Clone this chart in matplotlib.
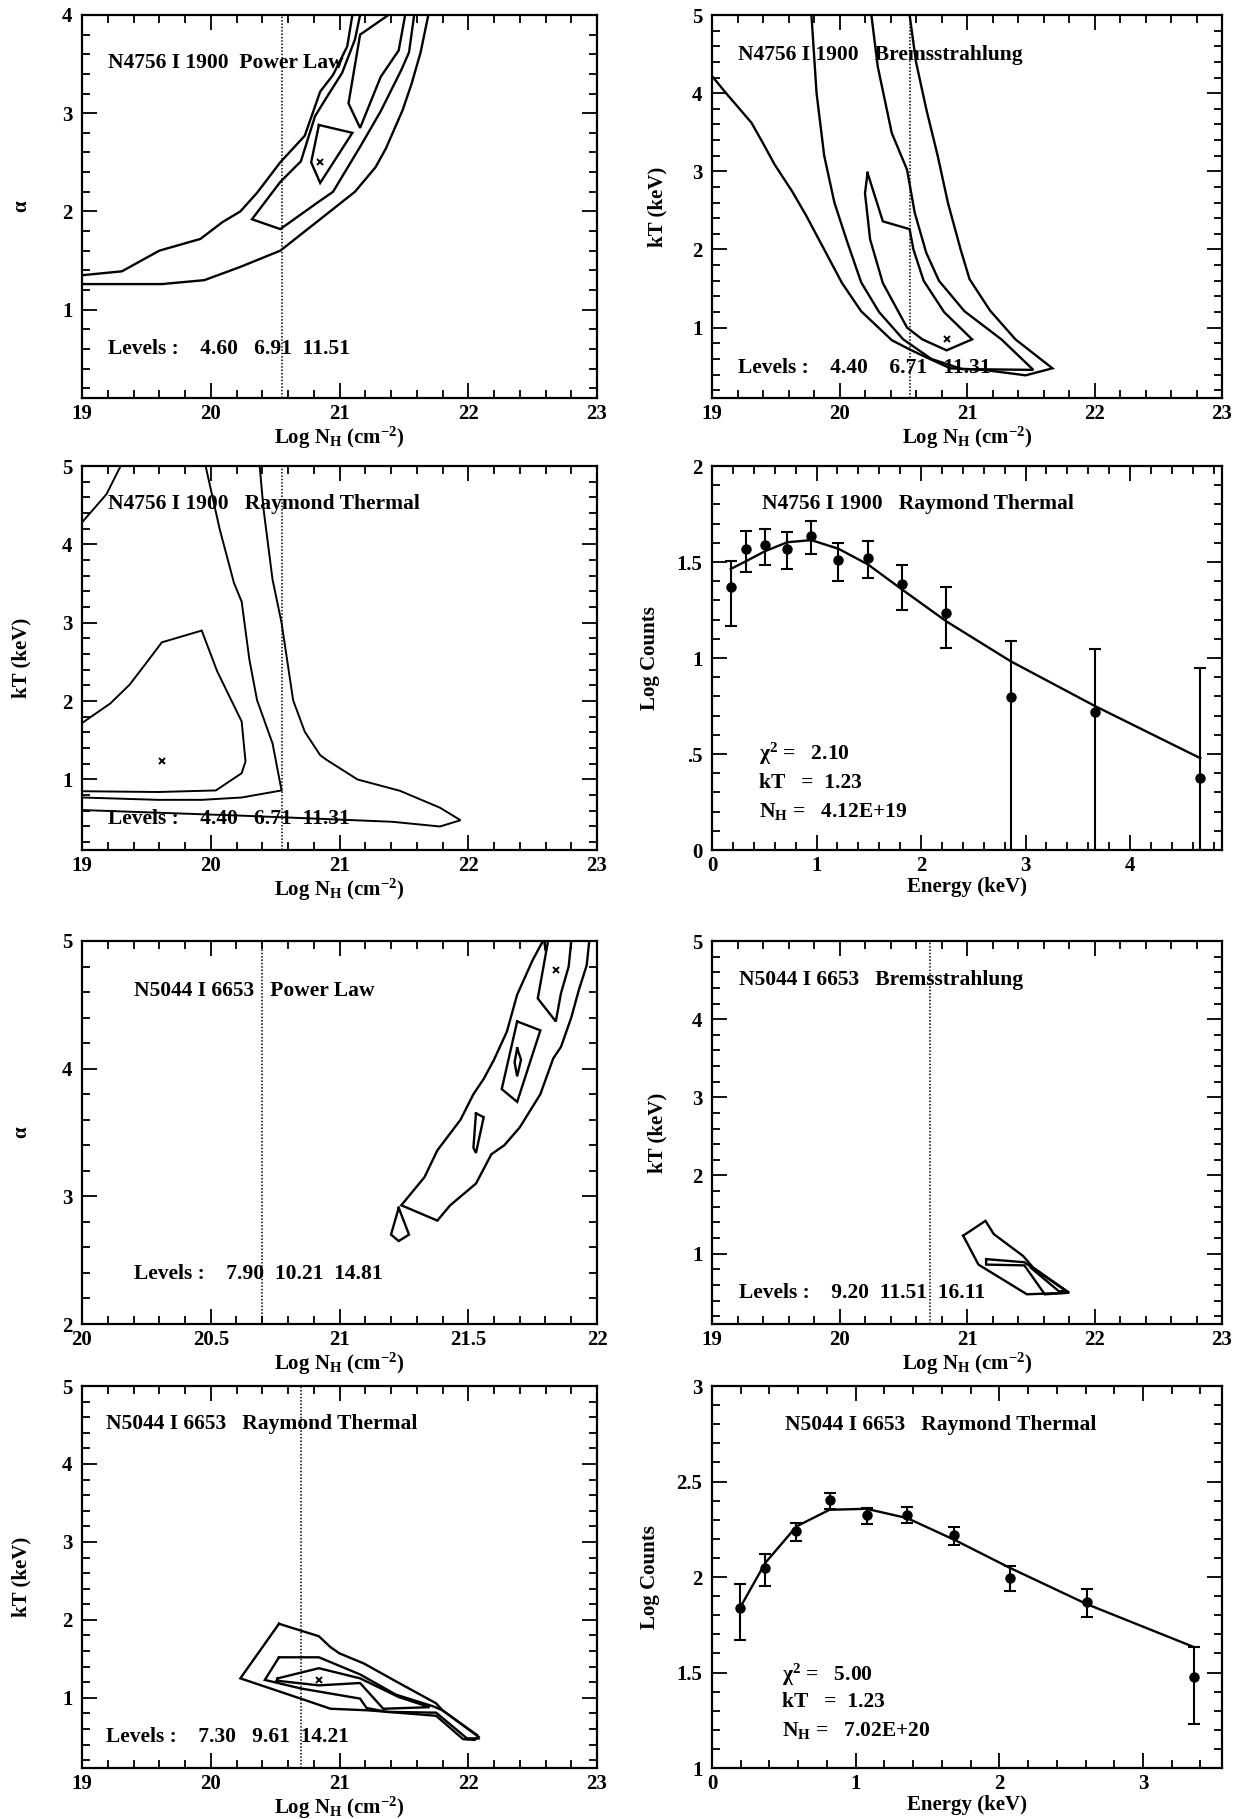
import matplotlib
matplotlib.use("Agg")
import matplotlib.pyplot as plt
from matplotlib.ticker import MultipleLocator, FuncFormatter

plt.rcParams['font.family'] = ['Liberation Serif', 'DejaVu Serif']
plt.rcParams['font.weight'] = 'bold'
plt.rcParams['mathtext.fontset'] = 'custom'
plt.rcParams['mathtext.rm'] = 'Liberation Serif:bold'
plt.rcParams['mathtext.it'] = 'Liberation Serif:italic:bold'
plt.rcParams['mathtext.bf'] = 'Liberation Serif:bold'

# ---------------- Panel 1: N4756 power law (contours) ----------------
p1_c1151_left = [(19.0, 1.35), (19.31, 1.39), (19.60, 1.60), (19.92, 1.72), (20.09, 1.89), (20.23, 2.00),
                 (20.36, 2.19), (20.54, 2.50), (20.73, 2.77), (20.85, 3.22), (20.95, 3.39), (21.06, 3.68),
                 (21.10, 4.0)]
p1_c1151_right = [(19.0, 1.26), (19.62, 1.26), (19.95, 1.30), (20.22, 1.43), (20.54, 1.60), (20.84, 1.91),
                  (21.12, 2.20), (21.28, 2.45), (21.36, 2.64), (21.49, 3.03), (21.56, 3.30), (21.63, 3.62),
                  (21.69, 4.0)]
p1_c691 = [(21.16, 4.0), (21.12, 3.75), (21.02, 3.41), (20.89, 3.14), (20.81, 2.97), (20.70, 2.51),
           (20.54, 2.30), (20.32, 1.92), (20.54, 1.82), (20.84, 2.10), (20.95, 2.20), (21.17, 2.68),
           (21.32, 3.02), (21.48, 3.44), (21.54, 3.62), (21.58, 4.0)]
p1_c460_top = [(21.38, 4.0), (21.16, 3.80), (21.07, 3.10), (21.16, 2.85), (21.32, 3.37), (21.46, 3.64),
               (21.51, 4.0)]
p1_c460_core = [(20.84, 2.88), (21.10, 2.80), (20.85, 2.29), (20.78, 2.50), (20.84, 2.88)]
p1_best = (20.85, 2.50)
p1_galactic = 20.55

# ---------------- Panel 2: N4756 bremsstrahlung (contours) ----------------
p2_c1131 = [(19.0, 4.22), (19.11, 4.0), (19.20, 3.83), (19.31, 3.62), (19.40, 3.36), (19.49, 3.09),
            (19.63, 2.74), (19.74, 2.43), (19.88, 2.00), (20.02, 1.57), (20.17, 1.21), (20.28, 1.04),
            (20.41, 0.84), (20.54, 0.73), (20.68, 0.62), (20.87, 0.48), (21.13, 0.46), (21.46, 0.39),
            (21.67, 0.48), (21.38, 0.85), (21.18, 1.22), (21.02, 1.62), (20.95, 2.0), (20.85, 2.6),
            (20.77, 3.2), (20.68, 3.8), (20.60, 4.4), (20.55, 5.0)]
p2_c671 = [(19.78, 5.0), (19.80, 4.5), (19.82, 4.0), (19.88, 3.2), (19.96, 2.6), (20.06, 2.1),
           (20.17, 1.58), (20.31, 1.2), (20.50, 0.85), (20.72, 0.60), (20.96, 0.47), (21.52, 0.46),
           (21.27, 0.85), (20.98, 1.21), (20.78, 1.60), (20.68, 1.96), (20.59, 2.47), (20.53, 3.02),
           (20.41, 3.49), (20.30, 4.34), (20.25, 5.0)]
p2_c440 = [(20.22, 2.98), (20.20, 2.72), (20.24, 2.13), (20.34, 1.57), (20.53, 1.0), (20.65, 0.85),
           (20.84, 0.71), (21.04, 0.85), (20.82, 1.2), (20.66, 1.6), (20.58, 2.0), (20.55, 2.26),
           (20.34, 2.36), (20.22, 2.98)]
p2_best = (20.84, 0.85)
p2_galactic = 20.55

# ---------------- Panel 3: N4756 Raymond thermal (contours) ----------------
p3_c1131_corner = [(19.0, 4.28), (19.19, 4.64), (19.30, 5.0)]
p3_c1131 = [(20.38, 5.0), (20.41, 4.45), (20.48, 3.55), (20.55, 3.0), (20.64, 2.01), (20.73, 1.61),
            (20.85, 1.31), (20.90, 1.25), (21.14, 1.0), (21.47, 0.855), (21.78, 0.64), (21.94, 0.48),
            (21.78, 0.40), (21.41, 0.46), (20.82, 0.50), (20.21, 0.54), (19.0, 0.61)]
p3_c671 = [(19.96, 5.0), (20.07, 4.19), (20.18, 3.51), (20.24, 3.27), (20.30, 2.53), (20.36, 2.01),
           (20.48, 1.46), (20.55, 0.86), (20.24, 0.77), (19.93, 0.74), (19.59, 0.74), (19.0, 0.77)]
p3_c440 = [(19.0, 1.72), (19.22, 1.97), (19.37, 2.21), (19.51, 2.51), (19.62, 2.75), (19.93, 2.90),
           (20.05, 2.38), (20.24, 1.74), (20.27, 1.23), (20.24, 1.08), (20.04, 0.86), (19.59, 0.84),
           (19.0, 0.85)]
p3_best = (19.62, 1.23)
p3_galactic = 20.55

# ---------------- Panel 4: N4756 spectrum ----------------
p4_energy = [0.18, 0.325, 0.51, 0.722, 0.949, 1.21, 1.493, 1.818, 2.242, 2.858, 3.66, 4.673]
p4_logc = [1.369, 1.569, 1.591, 1.570, 1.638, 1.513, 1.522, 1.383, 1.235, 0.797, 0.717, 0.377]
p4_err_hi = [1.503, 1.664, 1.673, 1.656, 1.713, 1.597, 1.609, 1.482, 1.369, 1.090, 1.049, 0.948]
p4_err_lo = [1.169, 1.450, 1.482, 1.464, 1.544, 1.403, 1.417, 1.252, 1.052, 0.0, 0.0, 0.0]
p4_model = [1.464, 1.504, 1.557, 1.603, 1.614, 1.569, 1.487, 1.357, 1.191, 0.983, 0.751, 0.478]

# ---------------- Panel 5: N5044 power law (contours) ----------------
p5_c1481 = [(21.79, 5.0), (21.75, 4.85), (21.69, 4.58), (21.65, 4.29), (21.60, 4.07), (21.56, 3.92),
            (21.52, 3.80), (21.47, 3.60), (21.38, 3.36), (21.33, 3.15), (21.24, 2.93), (21.38, 2.81),
            (21.43, 2.93), (21.53, 3.10), (21.59, 3.33), (21.64, 3.40), (21.70, 3.54), (21.78, 3.80),
            (21.83, 4.08), (21.86, 4.17), (21.90, 4.40), (21.93, 4.62), (21.96, 4.81), (21.97, 5.0)]
p5_c1021_top = [(21.81, 5.0), (21.77, 4.55), (21.84, 4.37), (21.86, 4.59), (21.89, 4.80), (21.90, 5.0)]
p5_c1021_box = [(21.69, 4.37), (21.78, 4.30), (21.69, 3.74), (21.63, 3.84), (21.69, 4.37)]
p5_c1021_mid = [(21.53, 3.65), (21.56, 3.62), (21.53, 3.34), (21.52, 3.38), (21.53, 3.65)]
p5_c1021_low = [(21.23, 2.91), (21.27, 2.70), (21.23, 2.65), (21.20, 2.70), (21.23, 2.91)]
p5_c790_core = [(21.69, 4.16), (21.705, 4.07), (21.69, 3.94), (21.68, 4.05), (21.69, 4.16)]
p5_c790_top = [(21.795, 5.0), (21.80, 4.93)]
p5_best = (21.84, 4.77)
p5_galactic = 20.70

# ---------------- Panel 6: N5044 bremsstrahlung (contours) ----------------
p6_c1611 = [(20.97, 1.23), (21.145, 1.42), (21.21, 1.25), (21.44, 0.97), (21.52, 0.82), (21.80, 0.50),
            (21.47, 0.48), (21.09, 0.86), (20.97, 1.23)]
p6_c1151 = [(21.15, 0.93), (21.45, 0.89), (21.80, 0.50), (21.61, 0.48), (21.45, 0.85), (21.15, 0.86),
            (21.15, 0.93)]
p6_c920 = [(21.50, 0.84), (21.78, 0.52), (21.72, 0.52), (21.50, 0.82), (21.50, 0.84)]
p6_galactic = 20.71

# ---------------- Panel 7: N5044 Raymond thermal (contours) ----------------
p7_c1421 = [(20.53, 1.95), (20.84, 1.79), (20.93, 1.65), (21.0, 1.57), (21.19, 1.44), (21.44, 1.21),
            (21.75, 0.93), (21.80, 0.84), (22.08, 0.50), (22.05, 0.46), (21.96, 0.47), (21.75, 0.77),
            (21.22, 0.84), (20.93, 0.86), (20.77, 0.95), (20.23, 1.25), (20.53, 1.95)]
p7_c961 = [(20.53, 1.52), (20.84, 1.52), (21.16, 1.30), (21.44, 1.04), (21.73, 0.89), (21.80, 0.84),
           (22.07, 0.52), (22.08, 0.48), (21.99, 0.48), (21.75, 0.81), (21.37, 0.82), (21.21, 0.87),
           (21.16, 0.99), (20.93, 1.055), (20.70, 1.12), (20.42, 1.23), (20.53, 1.52)]
p7_c730 = [(20.52, 1.25), (20.84, 1.38), (21.16, 1.25), (21.46, 1.01), (21.70, 0.88), (21.34, 0.86),
           (21.16, 1.19), (20.84, 1.16), (20.51, 1.22), (20.52, 1.25)]
p7_best = (20.84, 1.235)
p7_galactic = 20.70

# ---------------- Panel 8: N5044 spectrum ----------------
p8_energy = [0.195, 0.371, 0.588, 0.818, 1.076, 1.36, 1.686, 2.073, 2.612, 3.352]
p8_logc = [1.839, 2.048, 2.242, 2.404, 2.326, 2.326, 2.222, 1.996, 1.871, 1.478]
p8_err_hi = [1.964, 2.123, 2.282, 2.439, 2.361, 2.366, 2.262, 2.056, 1.938, 1.634]
p8_err_lo = [1.669, 1.952, 2.187, 2.355, 2.279, 2.282, 2.169, 1.926, 1.791, 1.231]
p8_model = [1.839, 2.074, 2.265, 2.352, 2.357, 2.308, 2.195, 2.048, 1.857, 1.634]

# ---------------- Text ----------------
nh_label = r"Log N$_{\mathregular{H}}$ (cm$^{\mathregular{-2}}$)"
kt_label = "kT (keV)"

W, H = 1238, 1819
fig = plt.figure(figsize=(W / 100, H / 100), dpi=100)

col_px = [(82, 597), (712, 1222)]
row_px = [(15, 398), (466, 850), (941, 1324), (1386, 1768)]

TICK_FS = 15
LAB_FS = 15
TXT_FS = 15.5


def make_ax(r, c):
    x0, x1 = col_px[c]
    y0, y1 = row_px[r]
    return fig.add_axes([x0 / W, 1 - y1 / H, (x1 - x0) / W, (y1 - y0) / H])


def fmt(v, pos):
    s = f"{v:g}"
    if s.startswith("0."):
        s = s[1:]
    return s


def setup(ax, xlim, ylim, xmaj, xmin, ymaj, ymin, xlabel, ylabel, ylab_x):
    ax.set_xlim(*xlim)
    ax.set_ylim(*ylim)
    ax.xaxis.set_major_locator(MultipleLocator(xmaj))
    ax.xaxis.set_minor_locator(MultipleLocator(xmin))
    ax.yaxis.set_major_locator(MultipleLocator(ymaj))
    ax.yaxis.set_minor_locator(MultipleLocator(ymin))
    ax.xaxis.set_major_formatter(FuncFormatter(fmt))
    ax.yaxis.set_major_formatter(FuncFormatter(fmt))
    ax.tick_params(which='both', direction='in', top=True, right=True, width=1.3, labelsize=TICK_FS)
    ax.tick_params(which='major', length=11)
    ax.tick_params(which='minor', length=6)
    ax.tick_params(axis='x', pad=4)
    ax.tick_params(axis='y', pad=7)
    for s in ax.spines.values():
        s.set_linewidth(1.6)
    ax.set_xlabel(xlabel, fontsize=LAB_FS, fontweight='bold', labelpad=1)
    ax.set_ylabel(ylabel, fontsize=LAB_FS, fontweight='bold', va='center')
    ax.yaxis.set_label_coords(ylab_x, 0.5)


def poly(ax, pts, lw=1.7):
    xs, ys = zip(*pts)
    ax.plot(xs, ys, color='black', lw=lw, solid_joinstyle='miter')


def vline(ax, x):
    ax.axvline(x, color='black', lw=1.1, ls=(0, (1, 1.2)))


def best(ax, pt):
    ax.plot([pt[0]], [pt[1]], marker='x', color='black', ms=4, mew=1.4, ls='none')


def label(ax, x, y, s, size=TXT_FS):
    ax.text(x, y, s, fontsize=size, fontweight='bold', ha='left', va='center')


# Panel 1
ax = make_ax(0, 0)
setup(ax, (19, 23), (0.1, 4), 1, 0.2, 1, 0.2, nh_label, "α", -0.118)
for c in (p1_c1151_left, p1_c1151_right, p1_c691, p1_c460_top, p1_c460_core):
    poly(ax, c)
best(ax, p1_best)
vline(ax, p1_galactic)
label(ax, 19.2, 3.51, "N4756 I 1900  Power Law")
label(ax, 19.2, 0.60, "Levels :    4.60   6.91  11.51")

# Panel 2
ax = make_ax(0, 1)
setup(ax, (19, 23), (0.1, 5), 1, 0.2, 1, 0.2, nh_label, kt_label, -0.106)
for c in (p2_c1131, p2_c671, p2_c440):
    poly(ax, c)
best(ax, p2_best)
vline(ax, p2_galactic)
label(ax, 19.2, 4.49, "N4756 I 1900   Bremsstrahlung")
label(ax, 19.2, 0.49, "Levels :    4.40    6.71   11.31")

# Panel 3
ax = make_ax(1, 0)
setup(ax, (19, 23), (0.1, 5), 1, 0.2, 1, 0.2, nh_label, kt_label, -0.118)
for c in (p3_c1131_corner, p3_c1131, p3_c671, p3_c440):
    poly(ax, c, lw=1.4)
best(ax, p3_best)
vline(ax, p3_galactic)
label(ax, 19.2, 4.51, "N4756 I 1900   Raymond Thermal")
label(ax, 19.2, 0.50, "Levels :    4.40   6.71  11.31")

# Panel 4
ax = make_ax(1, 1)
setup(ax, (0, 4.88), (0, 2), 1, 0.2, 0.5, 0.1, "Energy (keV)", "Log Counts", -0.122)
ax.plot(p4_energy, p4_model, color='black', lw=1.7)
lo = [v - l for v, l in zip(p4_logc, p4_err_lo)]
hi = [h - v for v, h in zip(p4_logc, p4_err_hi)]
ax.errorbar(p4_energy, p4_logc, yerr=[lo, hi], fmt='o', color='black', ms=6.5, elinewidth=1.5,
            capsize=4, capthick=1.5)
label(ax, 0.48, 1.80, "N4756 I 1900   Raymond Thermal")
label(ax, 0.45, 0.50, "χ$^{\\mathregular{2}}$ =   2.10")
label(ax, 0.45, 0.35, "kT   =  1.23")
label(ax, 0.45, 0.20, "N$_{\\mathregular{H}}$ =   4.12E+19")

# Panel 5
ax = make_ax(2, 0)
setup(ax, (20, 22), (2, 5), 0.5, 0.1, 1, 0.2, nh_label, "α", -0.118)
for c in (p5_c1481, p5_c1021_top, p5_c1021_box, p5_c1021_mid, p5_c1021_low, p5_c790_core, p5_c790_top):
    poly(ax, c)
best(ax, p5_best)
vline(ax, p5_galactic)
label(ax, 20.2, 4.61, "N5044 I 6653   Power Law")
label(ax, 20.2, 2.39, "Levels :    7.90  10.21  14.81")

# Panel 6
ax = make_ax(2, 1)
setup(ax, (19, 23), (0.1, 5), 1, 0.2, 1, 0.2, nh_label, kt_label, -0.106)
for c in (p6_c1611, p6_c1151, p6_c920):
    poly(ax, c)
vline(ax, p6_galactic)
label(ax, 19.21, 4.50, "N5044 I 6653   Bremsstrahlung")
label(ax, 19.21, 0.50, "Levels :    9.20  11.51  16.11")

# Panel 7
ax = make_ax(3, 0)
setup(ax, (19, 23), (0.1, 5), 1, 0.2, 1, 0.2, nh_label, kt_label, -0.118)
for c in (p7_c1421, p7_c961, p7_c730):
    poly(ax, c)
best(ax, p7_best)
vline(ax, p7_galactic)
label(ax, 19.19, 4.51, "N5044 I 6653   Raymond Thermal")
label(ax, 19.19, 0.50, "Levels :    7.30   9.61  14.21")

# Panel 8
ax = make_ax(3, 1)
setup(ax, (0, 3.55), (1, 3), 1, 0.2, 0.5, 0.1, "Energy (keV)", "Log Counts", -0.122)
ax.plot(p8_energy, p8_model, color='black', lw=1.7)
lo = [v - l for v, l in zip(p8_logc, p8_err_lo)]
hi = [h - v for v, h in zip(p8_logc, p8_err_hi)]
ax.errorbar(p8_energy, p8_logc, yerr=[lo, hi], fmt='o', color='black', ms=6.5, elinewidth=1.5,
            capsize=4, capthick=1.5)
label(ax, 0.507, 2.795, "N5044 I 6653   Raymond Thermal")
label(ax, 0.49, 1.49, "χ$^{\\mathregular{2}}$ =   5.00")
label(ax, 0.49, 1.344, "kT   =  1.23")
label(ax, 0.49, 1.196, "N$_{\\mathregular{H}}$ =   7.02E+20")

fig.savefig("out.png", dpi=100, facecolor='white')
